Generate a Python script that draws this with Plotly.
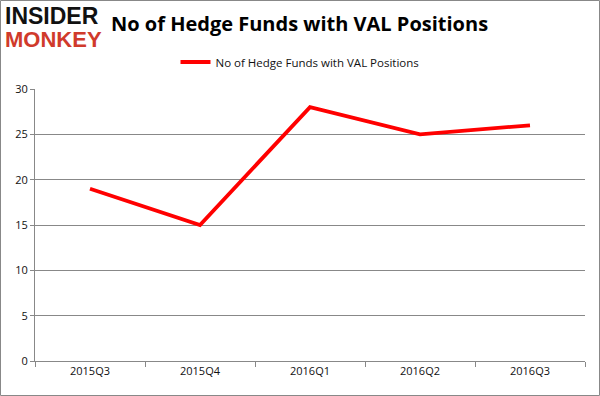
import plotly.graph_objects as go

quarters = ["2015Q3", "2015Q4", "2016Q1", "2016Q2", "2016Q3"]
hedge_funds = [19, 15, 28, 25, 26]
y_ticks = [0, 5, 10, 15, 20, 25, 30]

W, H = 600, 396
L, R, T, B = 35, 15, 89, 35
pw, ph = W - L - R, H - T - B

def px_x(p):
    return (p - L) / pw

def px_y(p):
    return (H - B - p) / ph

fig = go.Figure()
fig.add_trace(go.Scatter(
    x=quarters, y=hedge_funds, mode="lines",
    line=dict(color="#ff0000", width=3.8),
    name="No of Hedge Funds with VAL Positions",
))

fig.update_layout(
    width=W, height=H,
    margin=dict(l=L, r=R, t=T, b=B, autoexpand=False),
    paper_bgcolor="white", plot_bgcolor="white",
    font=dict(family="Open Sans, Liberation Sans, sans-serif", color="#222"),
    showlegend=True,
    legend=dict(orientation="h", x=px_x(300), xanchor="center", y=px_y(62), yanchor="middle",
                font=dict(size=11.5, color="#111"), itemwidth=30,
                bgcolor="rgba(0,0,0,0)"),
    xaxis=dict(
        type="category", tickson="boundaries", ticks="outside", ticklen=5,
        tickcolor="#888", showline=True, linecolor="#888", linewidth=1,
        showgrid=False, tickfont=dict(size=11, color="#111"),
        range=[-0.5, 4.5], fixedrange=True,
    ),
    yaxis=dict(
        range=[0, 30], tickvals=y_ticks, ticks="outside", ticklen=4,
        tickcolor="#888", showline=True, linecolor="#888", linewidth=1,
        showgrid=True, gridcolor="#888", gridwidth=1, zeroline=False,
        tickfont=dict(size=11, color="#111"), fixedrange=True,
    ),
    annotations=[
        dict(text="<b>No of Hedge Funds with VAL Positions</b>", xref="paper", yref="paper",
             x=px_x(299), y=px_y(24), xanchor="center", yanchor="middle", showarrow=False,
             font=dict(size=20, color="#000", family="Open Sans, sans-serif")),
        dict(text="<b>INSIDER</b>", xref="paper", yref="paper",
             x=px_x(3), y=px_y(16), xanchor="left", yanchor="middle", showarrow=False,
             font=dict(size=23, color="#111", family="Liberation Sans, sans-serif")),
        dict(text="<b>MONKEY</b>", xref="paper", yref="paper",
             x=px_x(3), y=px_y(39), xanchor="left", yanchor="middle", showarrow=False,
             font=dict(size=22, color="#d03a2b", family="Liberation Sans, sans-serif")),
    ],
    shapes=[
        dict(type="rect", xref="paper", yref="paper",
             x0=px_x(0.5), x1=px_x(599.5), y0=px_y(0.5), y1=px_y(395.5),
             line=dict(color="#888", width=1), layer="above"),
    ],
)

fig.write_html(
    "out.html",
    config={"displayModeBar": False},
    post_script="document.body.style.margin='0';document.body.style.padding='0';",
)
